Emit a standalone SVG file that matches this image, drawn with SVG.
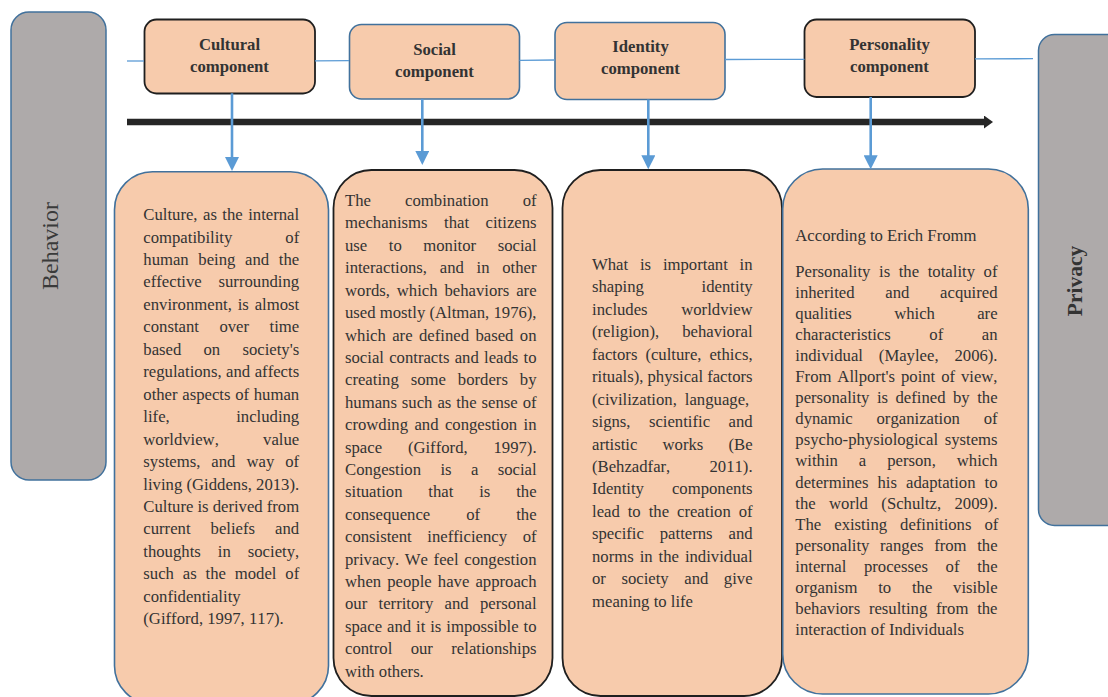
<svg xmlns="http://www.w3.org/2000/svg" width="1108" height="697" viewBox="0 0 1108 697">
<defs>
<style>
.side{fill:#AEAAAA;stroke:#41719C;stroke-width:1.5}
.pb{fill:#F7CBAC;stroke:#41719C;stroke-width:1.6}
.pk{fill:#F7CBAC;stroke:#1F1F1F;stroke-width:1.8}
.hd{font-family:"Liberation Serif","Times New Roman",serif;font-weight:bold;font-size:16.7px;fill:#333333;text-anchor:middle}
.t{font-family:"Liberation Serif","Times New Roman",serif;font-size:16.7px;fill:#333333;font-kerning:none;font-variant-ligatures:none}
.thin{stroke:#5B9BD5;stroke-width:1.3;fill:none}
.blue{stroke:#5B9BD5;stroke-width:2.6;fill:none}
.blk{stroke:#262626;stroke-width:6.5;fill:none}
</style>
<marker id="bh" markerUnits="userSpaceOnUse" markerWidth="14" markerHeight="14" refX="4" refY="7" orient="auto">
<path d="M0,0 L14,7 L0,14 z" fill="#5B9BD5"/>
</marker>
<marker id="kh" markerUnits="userSpaceOnUse" markerWidth="9" markerHeight="13" refX="2" refY="6.5" orient="auto">
<path d="M0,0 L9,6.5 L0,13 z" fill="#262626"/>
</marker>
</defs>
<rect width="1108" height="697" fill="#FFFFFF"/>

<g id="behavior">
<rect class="side" x="11" y="12" width="95" height="468" rx="18"/>
<text transform="translate(58,246) rotate(-90)" style="font-family:'Liberation Serif','Times New Roman',serif;font-size:24px;fill:#3a3a3a;text-anchor:middle">Behavior</text>
</g>

<g id="privacy">
<rect class="side" x="1038.5" y="34.5" width="90" height="491" rx="16"/>
<text transform="translate(1082,281) rotate(-90)" style="font-family:'Liberation Serif','Times New Roman',serif;font-size:21.5px;font-weight:bold;fill:#333333;text-anchor:middle">Privacy</text>
</g>

<g id="cultural-component">
<rect class="pk" x="144.5" y="19.5" width="170.5" height="74" rx="12"/>
<text class="hd" x="229.5" y="50">Cultural</text>
<text class="hd" x="229.5" y="71.5">component</text>
</g>

<g id="social-component">
<rect class="pb" x="349.5" y="24.5" width="170" height="74.5" rx="12"/>
<text class="hd" x="434.5" y="54.5">Social</text>
<text class="hd" x="434.5" y="76.5">component</text>
</g>

<g id="identity-component">
<rect class="pb" x="555" y="22.5" width="170" height="77" rx="12"/>
<text class="hd" x="640.5" y="51.5">Identity</text>
<text class="hd" x="640.5" y="73.5">component</text>
</g>

<g id="personality-component">
<rect class="pk" x="804.5" y="19.5" width="170.5" height="77.5" rx="12"/>
<text class="hd" x="889.5" y="49.5">Personality</text>
<text class="hd" x="889.5" y="71.5">component</text>
</g>

<g id="cultural-text">
<rect class="pb" x="114.5" y="171.8" width="214" height="532" rx="38"/>
<text class="t" x="143.3" y="220" style="word-spacing:1.29px">Culture, as the internal</text>
<text class="t" x="143.3" y="242.5" style="word-spacing:48.84px">compatibility of</text>
<text class="t" x="143.3" y="264.9" style="word-spacing:5.46px">human being and the</text>
<text class="t" x="143.3" y="287.4" style="word-spacing:12.7px">effective surrounding</text>
<text class="t" x="143.3" y="309.8" style="word-spacing:1.69px">environment, is almost</text>
<text class="t" x="143.3" y="332.3" style="word-spacing:16.31px">constant over time</text>
<text class="t" x="143.3" y="354.8" style="word-spacing:18.06px">based on society's</text>
<text class="t" x="143.3" y="377.2" style="word-spacing:0.32px">regulations, and affects</text>
<text class="t" x="143.3" y="399.7" style="word-spacing:0.52px">other aspects of human</text>
<text class="t" x="143.3" y="422.1" style="word-spacing:62.3px">life, including</text>
<text class="t" x="143.3" y="444.6" style="word-spacing:40.05px">worldview, value</text>
<text class="t" x="143.3" y="467.1" style="word-spacing:6.85px">systems, and way of</text>
<text class="t" x="143.3" y="489.5" style="word-spacing:0.07px">living (Giddens, 2013).</text>
<text class="t" x="143.3" y="512" style="word-spacing:-0.1px">Culture is derived from</text>
<text class="t" x="143.3" y="534.4" style="word-spacing:15.86px">current beliefs and</text>
<text class="t" x="143.3" y="556.9" style="word-spacing:12.82px">thoughts in society,</text>
<text class="t" x="143.3" y="579.4" style="word-spacing:4.68px">such as the model of</text>
<text class="t" x="143.3" y="601.8">confidentiality</text>
<text class="t" x="143.3" y="624.3">(Gifford, 1997, 117).</text>
</g>

<g id="social-text">
<rect class="pk" x="333.5" y="170" width="219" height="526" rx="38"/>
<text class="t" x="345" y="206" style="word-spacing:29.99px">The combination of</text>
<text class="t" x="345" y="228.4" style="word-spacing:12.36px">mechanisms that citizens</text>
<text class="t" x="345" y="250.8" style="word-spacing:17.36px">use to monitor social</text>
<text class="t" x="345" y="273.2" style="word-spacing:8.55px">interactions, and in other</text>
<text class="t" x="345" y="295.6" style="word-spacing:2.68px">words, which behaviors are</text>
<text class="t" x="345" y="318.1" style="word-spacing:0.04px">used mostly (Altman, 1976),</text>
<text class="t" x="345" y="340.5" style="word-spacing:2.25px">which are defined based on</text>
<text class="t" x="345" y="362.9" style="word-spacing:1.08px">social contracts and leads to</text>
<text class="t" x="345" y="385.3" style="word-spacing:7.78px">creating some borders by</text>
<text class="t" x="345" y="407.7" style="word-spacing:0.77px">humans such as the sense of</text>
<text class="t" x="345" y="430.1" style="word-spacing:2.21px">crowding and congestion in</text>
<text class="t" x="345" y="452.5" style="word-spacing:21.65px">space (Gifford, 1997).</text>
<text class="t" x="345" y="474.9" style="word-spacing:15.19px">Congestion is a social</text>
<text class="t" x="345" y="497.3" style="word-spacing:21.68px">situation that is the</text>
<text class="t" x="345" y="519.7" style="word-spacing:31.86px">consequence of the</text>
<text class="t" x="345" y="542.2" style="word-spacing:11.44px">consistent inefficiency of</text>
<text class="t" x="345" y="564.6" style="word-spacing:1.45px">privacy. We feel congestion</text>
<text class="t" x="345" y="587" style="word-spacing:1.92px">when people have approach</text>
<text class="t" x="345" y="609.4" style="word-spacing:7.16px">our territory and personal</text>
<text class="t" x="345" y="631.8" style="word-spacing:0.76px">space and it is impossible to</text>
<text class="t" x="345" y="654.2" style="word-spacing:14.21px">control our relationships</text>
<text class="t" x="345" y="676.6">with others.</text>
</g>

<g id="identity-text">
<rect class="pk" x="562.5" y="170" width="219.5" height="526" rx="38"/>
<text class="t" x="592" y="270" style="word-spacing:7.64px">What is important in</text>
<text class="t" x="592" y="292.4" style="word-spacing:53.54px">shaping identity</text>
<text class="t" x="592" y="314.9" style="word-spacing:29.44px">includes worldview</text>
<text class="t" x="592" y="337.3" style="word-spacing:18.78px">(religion), behavioral</text>
<text class="t" x="592" y="359.8" style="word-spacing:3.83px">factors (culture, ethics,</text>
<text class="t" x="592" y="382.2" style="word-spacing:-0.12px">rituals), physical factors</text>
<text class="t" x="592" y="404.6" style="word-spacing:3.84px">(civilization, language,</text>
<text class="t" x="592" y="427.1" style="word-spacing:14.25px">signs, scientific and</text>
<text class="t" x="592" y="449.5" style="word-spacing:20.98px">artistic works (Be</text>
<text class="t" x="592" y="472" style="word-spacing:35.03px">(Behzadfar, 2011).</text>
<text class="t" x="592" y="494.4" style="word-spacing:23.86px">Identity components</text>
<text class="t" x="592" y="516.8" style="word-spacing:3.77px">lead to the creation of</text>
<text class="t" x="592" y="539.3" style="word-spacing:11.71px">specific patterns and</text>
<text class="t" x="592" y="561.7" style="word-spacing:1.76px">norms in the individual</text>
<text class="t" x="592" y="584.2" style="word-spacing:11.36px">or society and give</text>
<text class="t" x="592" y="606.6">meaning to life</text>
</g>

<g id="personality-text">
<rect class="pb" x="782.7" y="169" width="245.6" height="525" rx="40"/>
<text class="t" x="795.3" y="241">According to Erich Fromm</text>
<text class="t" x="795.3" y="276.7" style="word-spacing:4.44px">Personality is the totality of</text>
<text class="t" x="795.3" y="297.8" style="word-spacing:26.53px">inherited and acquired</text>
<text class="t" x="795.3" y="318.9" style="word-spacing:38.12px">qualities which are</text>
<text class="t" x="795.3" y="339.9" style="word-spacing:34.41px">characteristics of an</text>
<text class="t" x="795.3" y="361" style="word-spacing:11.68px">individual (Maylee, 2006).</text>
<text class="t" x="795.3" y="382.1" style="word-spacing:1.72px">From Allport's point of view,</text>
<text class="t" x="795.3" y="403.2" style="word-spacing:3.29px">personality is defined by the</text>
<text class="t" x="795.3" y="424.3" style="word-spacing:19.57px">dynamic organization of</text>
<text class="t" x="795.3" y="445.3" style="word-spacing:2.47px">psycho-physiological systems</text>
<text class="t" x="795.3" y="466.4" style="word-spacing:16.75px">within a person, which</text>
<text class="t" x="795.3" y="487.5" style="word-spacing:4.85px">determines his adaptation to</text>
<text class="t" x="795.3" y="508.6" style="word-spacing:9.18px">the world (Schultz, 2009).</text>
<text class="t" x="795.3" y="529.7" style="word-spacing:8.82px">The existing definitions of</text>
<text class="t" x="795.3" y="550.7" style="word-spacing:6.4px">personality ranges from the</text>
<text class="t" x="795.3" y="571.8" style="word-spacing:13.51px">internal processes of the</text>
<text class="t" x="795.3" y="592.9" style="word-spacing:16.59px">organism to the visible</text>
<text class="t" x="795.3" y="614" style="word-spacing:4.54px">behaviors resulting from the</text>
<text class="t" x="795.3" y="635.1">interaction of Individuals</text>
</g>

<g id="connectors">
<path class="thin" d="M127,61 L144,61"/>
<path class="thin" d="M315,60.8 L349,60.7"/>
<path class="thin" d="M519.5,60.3 L555,60"/>
<path class="thin" d="M725,59.5 L804.5,59.3"/>
<path class="thin" d="M975,58.8 L1033,58.7"/>
<path class="blk" d="M127,122 L986,122" marker-end="url(#kh)"/>
<path class="blue" d="M232,93.3 L232,161" marker-end="url(#bh)"/>
<path class="blue" d="M422.3,99 L422.3,155" marker-end="url(#bh)"/>
<path class="blue" d="M648.3,99.5 L648.3,159.3" marker-end="url(#bh)"/>
<path class="blue" d="M870.7,97 L870.7,159.3" marker-end="url(#bh)"/>
</g>
</svg>
